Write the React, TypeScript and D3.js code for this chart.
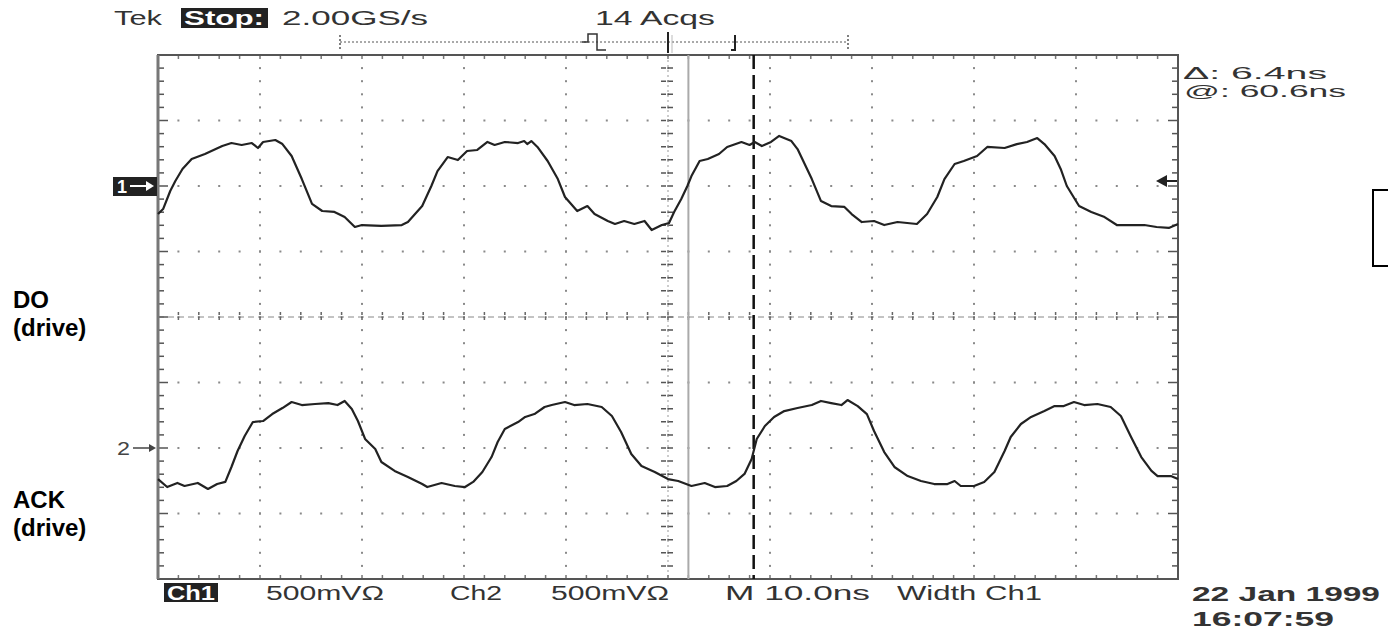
import React from 'react';
import * as d3 from 'd3';

const width = 1388;
const height = 631;
const frame = { left: 158, right: 1178, top: 55, bottom: 579 };

// time axis: 10 divisions of 10 ns
const timeDomain = [0, 100];
// vertical: 8 divisions of 500 mV, screen centre = 0
const voltDomain = [-2000, 2000];
const channelOffset = [1000, -1000]; // ch1 ground +2 div, ch2 ground -2 div

const ch1Time = [0, 0.5, 1.2, 1.7, 2.4, 3.3, 4.6, 6.3, 7.2, 8.2, 9.2, 9.8, 10.3, 11.5, 12.2, 13.1, 14.1, 15.1, 16.1, 17.3, 18.3, 19.3, 20.0, 21.9, 23.9, 24.5, 25.9, 26.8, 27.4, 28.4, 29.4, 30.3, 31.3, 32.3, 33.0, 34.0, 35.3, 35.9, 36.2, 36.6, 37.2, 38.2, 39.2, 39.9, 41.1, 42.1, 42.8, 44.1, 44.8, 45.7, 46.7, 47.7, 48.4, 49.4, 50.1, 50.6, 51.3, 51.9, 52.3, 53.1, 53.9, 55.0, 55.8, 57.2, 58.0, 58.5, 59.2, 60.1, 60.9, 62.1, 62.7, 64.1, 65.0, 66.0, 67.3, 68.0, 69.0, 70.2, 71.2, 72.5, 74.4, 75.4, 76.4, 77.1, 78.1, 79.0, 80.3, 81.3, 83.0, 84.2, 85.2, 86.2, 86.9, 87.9, 88.5, 89.1, 90.3, 91.5, 92.8, 94.0, 95.4, 96.7, 97.9, 99.1, 100];
const ch1mV = [-214, -176, -38, 38, 130, 206, 244, 305, 328, 313, 328, 290, 336, 351, 320, 229, 53, -137, -191, -198, -237, -313, -298, -305, -298, -275, -153, 0, 114, 221, 198, 267, 275, 336, 313, 336, 328, 343, 320, 343, 298, 191, 53, -84, -191, -153, -214, -267, -290, -267, -290, -267, -336, -298, -282, -198, -99, 0, 76, 191, 206, 244, 298, 336, 313, 336, 305, 336, 382, 343, 282, 53, -115, -153, -160, -214, -275, -267, -298, -275, -290, -214, -84, 53, 168, 191, 229, 298, 290, 320, 336, 366, 320, 229, 130, 0, -153, -198, -237, -298, -298, -298, -313, -320, -290];

const ch2Time = [0, 0.9, 1.9, 2.6, 3.9, 4.9, 5.8, 6.6, 7.2, 7.8, 8.5, 9.3, 10.3, 11.2, 12.2, 13.1, 14.1, 15.4, 16.7, 17.6, 18.3, 19.0, 19.6, 20.3, 21.3, 21.9, 23.2, 24.5, 25.9, 26.4, 27.8, 29.1, 30.1, 30.9, 31.8, 32.7, 33.3, 34.0, 35.3, 36.0, 36.9, 37.9, 38.6, 39.9, 40.8, 42.1, 43.5, 44.5, 45.4, 46.4, 47.4, 48.7, 50.0, 51.0, 52.3, 53.6, 54.6, 55.8, 56.7, 57.5, 58.2, 58.7, 59.5, 60.4, 61.4, 62.7, 64.1, 65.0, 66.0, 67.0, 67.6, 68.6, 69.5, 70.2, 71.2, 72.2, 73.5, 74.8, 76.1, 77.4, 78.1, 78.7, 80.0, 81.0, 82.0, 83.0, 83.6, 84.6, 85.6, 86.9, 87.9, 88.8, 89.8, 90.8, 92.1, 93.4, 94.4, 95.4, 96.4, 97.4, 98.0, 99.3, 100];
const ch2mV = [-237, -298, -267, -290, -267, -313, -275, -259, -145, -23, 92, 198, 206, 259, 305, 351, 328, 336, 343, 328, 359, 298, 206, 69, -8, -107, -175, -221, -275, -298, -267, -290, -298, -259, -183, -69, 46, 145, 198, 237, 259, 313, 328, 351, 328, 336, 313, 244, 122, -46, -137, -183, -237, -252, -290, -267, -298, -290, -252, -198, -84, 69, 168, 237, 282, 305, 328, 359, 343, 328, 366, 320, 259, 130, -31, -145, -214, -252, -275, -275, -252, -290, -290, -259, -183, -23, 84, 183, 237, 282, 320, 320, 351, 328, 336, 313, 244, 84, -69, -175, -214, -214, -237];

// cursors (ns)
const cursorSolid = 52.0;
const cursorDashed = 58.4;

const topTexts = [
  { text: 'Tek', x: 114, len: 48 },
  { text: '2.00GS/s', x: 282, len: 146 },
  { text: '14 Acqs', x: 595, len: 120 },
];
const bottomTexts = [
  { text: '500mVΩ', x: 266, len: 118 },
  { text: 'Ch2', x: 450, len: 52 },
  { text: '500mVΩ', x: 551, len: 118 },
  { text: 'M 10.0ns', x: 725, len: 145 },
  { text: 'Width Ch1', x: 897, len: 145 },
];
const sideLabels = [
  { lines: ['DO', '(drive)'], y: 308 },
  { lines: ['ACK', '(drive)'], y: 508 },
];

const scopeFont = '"Liberation Sans", Arial, sans-serif';

export default function App() {
  const x = d3.scaleLinear().domain(timeDomain).range([frame.left, frame.right]);
  const y = d3.scaleLinear().domain(voltDomain).range([frame.bottom, frame.top]);

  const line1 = d3.line<number>()
    .x((d, i) => x(ch1Time[i]))
    .y(d => y(channelOffset[0] + d));
  const line2 = d3.line<number>()
    .x((d, i) => x(ch2Time[i]))
    .y(d => y(channelOffset[1] + d));

  const divX = d3.range(0, 11).map(i => x(i * 10));
  const divY = d3.range(0, 9).map(j => y(-2000 + j * 500));
  const minorX = d3.range(0, 51).map(k => x(k * 2));
  const minorY = d3.range(0, 41).map(k => y(-2000 + k * 100));
  const cx = x(50);
  const cy = y(0);

  const dots = [];
  divX.slice(1, 10).forEach((gx, i) => {
    minorY.slice(1, 40).forEach((gy, k) => {
      dots.push(<rect key={`v${i}-${k}`} x={gx - 1} y={gy - 1} width={2} height={2} fill="#8a8a8a" />);
    });
  });
  divY.slice(1, 8).forEach((gy, j) => {
    minorX.slice(1, 50).forEach((gx, k) => {
      dots.push(<rect key={`h${j}-${k}`} x={gx - 1} y={gy - 1} width={2} height={2} fill="#8a8a8a" />);
    });
  });

  return (
    <svg width={width} height={height} style={{ position: 'absolute', left: 0, top: 0, background: '#fff' }}>
      <rect width={width} height={height} fill="#fff" />

      {/* grid */}
      {dots}
      {/* centre cross ticks */}
      {minorY.slice(1, 40).map((gy, k) => (
        <line key={`cv${k}`} x1={cx - 7} x2={cx + 7} y1={gy} y2={gy} stroke="#555" strokeWidth={1.5} strokeDasharray="5 2" />
      ))}
      <line x1={cx} x2={cx} y1={frame.top} y2={frame.bottom} stroke="#999" strokeWidth={1} strokeDasharray="2 3" />
      <line x1={frame.left} x2={frame.right} y1={cy} y2={cy} stroke="#888" strokeWidth={1} strokeDasharray="6 4" />
      {minorX.slice(1, 50).map((gx, k) => (
        <line key={`ch${k}`} x1={gx} x2={gx} y1={cy - 5} y2={cy + 5} stroke="#666" strokeWidth={1.5} strokeDasharray="3 2" />
      ))}
      {/* edge ticks */}
      {minorY.slice(1, 40).map((gy, k) => (
        <g key={`e${k}`}>
          <line x1={frame.left} x2={frame.left + (k % 5 === 4 ? 10 : 6)} y1={gy} y2={gy} stroke="#555" strokeWidth={1.5} />
          <line x1={frame.right} x2={frame.right - (k % 5 === 4 ? 10 : 6)} y1={gy} y2={gy} stroke="#555" strokeWidth={1.5} />
        </g>
      ))}
      {minorX.slice(1, 50).map((gx, k) => (
        <g key={`f${k}`}>
          <line x1={gx} x2={gx} y1={frame.top} y2={frame.top + 4} stroke="#777" strokeWidth={1.5} />
          <line x1={gx} x2={gx} y1={frame.bottom} y2={frame.bottom - 4} stroke="#777" strokeWidth={1.5} />
        </g>
      ))}
      <rect x={frame.left} y={frame.top} width={frame.right - frame.left} height={frame.bottom - frame.top}
        fill="none" stroke="#555" strokeWidth={2} />
      <line x1={frame.left} x2={frame.left} y1={frame.top} y2={frame.bottom} stroke="#777" strokeWidth={3} />

      {/* cursors */}
      <line x1={x(cursorSolid)} x2={x(cursorSolid)} y1={frame.top} y2={frame.bottom} stroke="#aaa" strokeWidth={2} />
      <line x1={x(cursorDashed)} x2={x(cursorDashed)} y1={frame.top} y2={frame.bottom} stroke="#111" strokeWidth={2.5} strokeDasharray="14 6" />

      {/* traces */}
      <path d={line1(ch1mV)} fill="none" stroke="#222" strokeWidth={2.2} strokeLinejoin="round" />
      <path d={line2(ch2mV)} fill="none" stroke="#222" strokeWidth={2.2} strokeLinejoin="round" />

      {/* channel markers */}
      <rect x={113} y={y(channelOffset[0]) - 9} width={44} height={19} fill="#222" />
      <text x={117} y={y(channelOffset[0]) + 7} fontFamily={scopeFont} fontWeight="bold" fontSize={18} fill="#fff">1</text>
      <line x1={130} x2={146} y1={y(channelOffset[0])} y2={y(channelOffset[0])} stroke="#fff" strokeWidth={2} />
      <path d={`M146,${y(channelOffset[0]) - 5} L154,${y(channelOffset[0])} L146,${y(channelOffset[0]) + 5} Z`} fill="#fff" />
      <text x={117} y={y(channelOffset[1]) + 7} fontFamily={scopeFont} fontSize={19} fill="#444"
        textLength={13} lengthAdjust="spacingAndGlyphs">2</text>
      <line x1={133} x2={150} y1={y(channelOffset[1])} y2={y(channelOffset[1])} stroke="#444" strokeWidth={1.5} />
      <path d={`M149,${y(channelOffset[1]) - 4} L156,${y(channelOffset[1])} L149,${y(channelOffset[1]) + 4} Z`} fill="#444" />

      {/* trigger level marker */}
      <path d="M1156,181 L1167,175 L1167,187 Z" fill="#222" />
      <line x1={1166} x2={1177} y1={181} y2={181} stroke="#222" strokeWidth={2} />

      {/* top status */}
      {topTexts.map(t => (
        <text key={t.text} x={t.x} y={25} fontFamily={scopeFont} fontSize={20} fill="#333"
          textLength={t.len} lengthAdjust="spacingAndGlyphs">{t.text}</text>
      ))}
      <rect x={181} y={8} width={87} height={20} fill="#222" />
      <text x={184} y={25} fontFamily={scopeFont} fontSize={20} fill="#fff" fontWeight="bold"
        textLength={80} lengthAdjust="spacingAndGlyphs">Stop:</text>

      {/* record bar */}
      <line x1={340} x2={848} y1={42} y2={42} stroke="#555" strokeWidth={1} strokeDasharray="2 2" />
      <line x1={340} x2={340} y1={35} y2={50} stroke="#555" strokeWidth={1.5} strokeDasharray="2 2" />
      <line x1={848} x2={848} y1={35} y2={50} stroke="#555" strokeWidth={1.5} strokeDasharray="2 2" />
      <path d="M582,42 H588 V34 H597 V50 H606" fill="none" stroke="#333" strokeWidth={1.5} />
      <line x1={x(50)} x2={x(50)} y1={32} y2={53} stroke="#222" strokeWidth={2} />
      <line x1={x(50) + 4} x2={x(50) + 4} y1={35} y2={53} stroke="#bbb" strokeWidth={1} />
      <path d="M735,35 V50 H731" fill="none" stroke="#222" strokeWidth={2} />

      {/* cursor readout */}
      <text x={1183} y={79} fontFamily={scopeFont} fontSize={17} fill="#333"
        textLength={144} lengthAdjust="spacingAndGlyphs">Δ: 6.4ns</text>
      <text x={1184} y={97} fontFamily={scopeFont} fontSize={17} fill="#333"
        textLength={162} lengthAdjust="spacingAndGlyphs">@: 60.6ns</text>

      {/* bottom status */}
      <rect x={164} y={583} width={54} height={19} fill="#222" />
      <text x={167} y={600} fontFamily={scopeFont} fontSize={20} fontWeight="bold" fill="#fff"
        textLength={48} lengthAdjust="spacingAndGlyphs">Ch1</text>
      {bottomTexts.map((t, i) => (
        <text key={i} x={t.x} y={600} fontFamily={scopeFont} fontSize={20} fill="#333"
          textLength={t.len} lengthAdjust="spacingAndGlyphs">{t.text}</text>
      ))}
      <text x={1192} y={601} fontFamily={scopeFont} fontSize={20} fontWeight="bold" fill="#333"
        textLength={188} lengthAdjust="spacingAndGlyphs">22 Jan 1999</text>
      <text x={1192} y={626} fontFamily={scopeFont} fontSize={20} fontWeight="bold" fill="#333"
        textLength={142} lengthAdjust="spacingAndGlyphs">16:07:59</text>

      {/* side labels */}
      {sideLabels.map(l => (
        <text key={l.lines[0]} x={13} y={l.y} fontFamily={scopeFont} fontSize={24} fontWeight="bold" fill="#000">
          {l.lines.map((s, i) => (
            <tspan key={i} x={13} dy={i === 0 ? 0 : 28}>{s}</tspan>
          ))}
        </text>
      ))}

      {/* partial box at right edge */}
      <path d="M1392,190 H1373 V266 H1392" fill="none" stroke="#000" strokeWidth={2} />
    </svg>
  );
}
